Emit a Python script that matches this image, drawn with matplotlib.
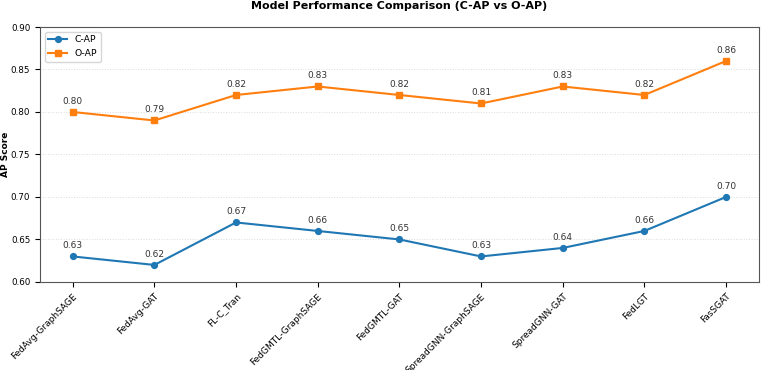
import matplotlib
matplotlib.use('Agg')
import matplotlib.pyplot as plt

# 数据
models = ['FedAvg-GraphSAGE', 'FedAvg-GAT', 'FL-C_Tran', 'FedGMTL-GraphSAGE',
          'FedGMTL-GAT', 'SpreadGNN-GraphSAGE', 'SpreadGNN-GAT', 'FedLGT', 'FasSGAT']
c_ap = [0.63, 0.62, 0.67, 0.66, 0.65, 0.63, 0.64, 0.66, 0.70]
o_ap = [0.80, 0.79, 0.82, 0.83, 0.82, 0.81, 0.83, 0.82, 0.86]
yticks = [0.60, 0.65, 0.70, 0.75, 0.80, 0.85, 0.90]

fig = plt.figure(figsize=(7.61, 3.70), dpi=100)
ax = fig.add_axes([0.0526, 0.238, 0.9444, 0.689])

x = list(range(len(models)))
ax.plot(x, c_ap, marker='o', color='#1f77b4', linewidth=1.5, markersize=4.2, label='C-AP')
ax.plot(x, o_ap, marker='s', color='#ff7f0e', linewidth=1.5, markersize=4.2, label='O-AP')

# 数值标注
for xi, v in zip(x, c_ap):
    ax.annotate(f'{v:.2f}', (xi, v), textcoords='offset points', xytext=(0, 6),
                ha='center', fontsize=6.5, color='#333333')
for xi, v in zip(x, o_ap):
    ax.annotate(f'{v:.2f}', (xi, v), textcoords='offset points', xytext=(0, 6),
                ha='center', fontsize=6.5, color='#333333')

ax.set_ylim(0.60, 0.90)
ax.set_yticks(yticks)
ax.set_xticks(x)
ax.set_xticklabels(models, rotation=45, ha='right', rotation_mode='anchor', fontsize=6.5)
ax.tick_params(axis='y', labelsize=6.3)
ax.set_ylabel('AP Score', fontsize=6.5, fontweight='bold')
ax.yaxis.set_label_coords(-0.042, 0.5)
ax.set_title('Model Performance Comparison (C-AP vs O-AP)', fontsize=8, fontweight='bold', pad=13)
ax.grid(axis='y', linestyle=':', color='#cccccc', linewidth=0.7, alpha=0.7)
ax.legend(loc='upper left', fontsize=6.7)
for s in ax.spines.values():
    s.set_color('#555555')

fig.savefig('out.png', dpi=100)
